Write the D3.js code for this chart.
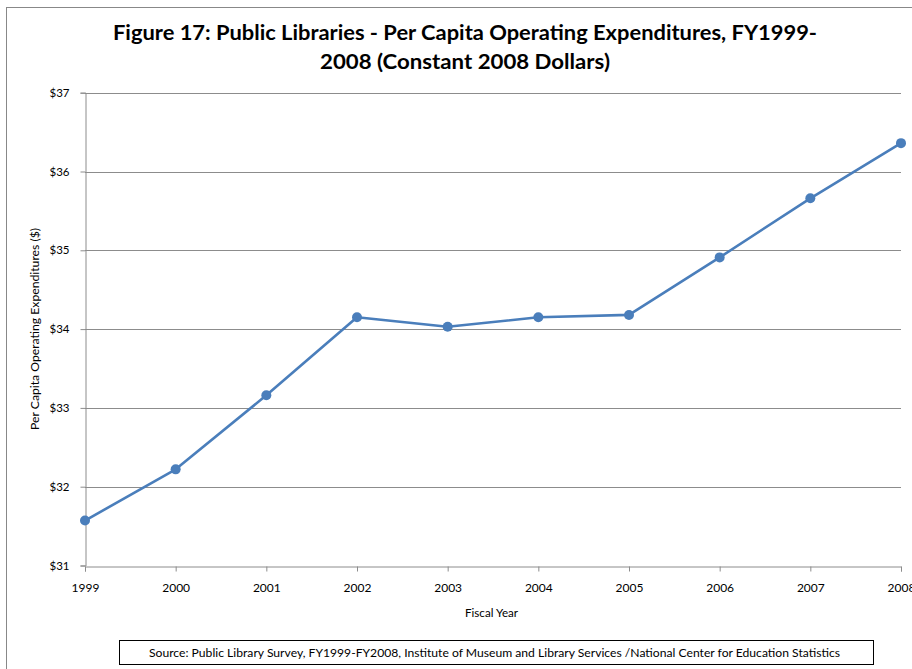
<!DOCTYPE html>
<html>
<head>
<meta charset="utf-8">
<script src="https://cdn.jsdelivr.net/npm/d3@7"></script>
<style>
  html, body { margin: 0; padding: 0; background: #fff; }
  svg { display: block; }
  text { font-family: Lato, "Liberation Sans", sans-serif; fill: #000; }
</style>
</head>
<body>
<svg id="chart" width="912" height="669"></svg>
<script>
const years = [1999, 2000, 2001, 2002, 2003, 2004, 2005, 2006, 2007, 2008];
const values = [31.57, 32.22, 33.16, 34.15, 34.03, 34.15, 34.18, 34.91, 35.66, 36.36];
const yTicks = [31, 32, 33, 34, 35, 36, 37];
const titleLines = ["Figure 17: Public Libraries - Per Capita Operating Expenditures, FY1999-", "2008 (Constant 2008 Dollars)"];
const yLabel = "Per Capita Operating Expenditures ($)";
const xLabel = "Fiscal Year";
const sourceText = "Source: Public Library Survey, FY1999-FY2008, Institute  of Museum and Library Services /National  Center for Education Statistics";

const svg = d3.select("#chart");
const m = {left: 85, right: 901, top: 92.7, bottom: 565.5};
const FONT = "Lato, 'Liberation Sans', sans-serif";

// outer border
svg.append("rect").attr("x", 6.5).attr("y", 7.5).attr("width", 920).attr("height", 700)
  .attr("fill", "none").attr("stroke", "#888").attr("stroke-width", 1);

const x = d3.scaleLinear().domain([1999, 2008]).range([m.left, m.right]);
const y = d3.scaleLinear().domain([31, 37]).range([m.bottom, m.top]);

// gridlines
svg.append("g").selectAll("line").data(yTicks.filter(d => d !== 31)).join("line")
  .attr("x1", m.left).attr("x2", m.right)
  .attr("y1", d => Math.round(y(d)) + 0.5).attr("y2", d => Math.round(y(d)) + 0.5)
  .attr("stroke", "#8c8c8c").attr("stroke-width", 1);

// y axis
const yAxis = d3.axisLeft(y).tickValues(yTicks).tickSize(5).tickPadding(11)
  .tickFormat(d => "$" + d);
const gy = svg.append("g").attr("transform", `translate(${m.left + 0.5},0)`).call(yAxis);
gy.select(".domain").attr("stroke", "#8c8c8c");
gy.selectAll(".tick line").attr("stroke", "#8c8c8c");
gy.selectAll(".tick text").style("font-size", "11.5px").attr("fill", "#000")
  .style("font-family", FONT);

// x axis
const xAxis = d3.axisBottom(x).tickValues(years).tickSize(5).tickPadding(12)
  .tickFormat(d3.format("d"));
const gx = svg.append("g").attr("transform", `translate(0,${Math.round(m.bottom) + 0.5})`).call(xAxis);
gx.select(".domain").attr("stroke", "#8c8c8c");
gx.selectAll(".tick line").attr("stroke", "#8c8c8c");
gx.selectAll(".tick text").style("font-size", "12px").attr("fill", "#000")
  .style("font-family", FONT);

// line
const data = years.map((yr, i) => ({yr, v: values[i]}));
svg.append("path").datum(data)
  .attr("d", d3.line().x(d => x(d.yr)).y(d => y(d.v)))
  .attr("fill", "none").attr("stroke", "#4a7ebb").attr("stroke-width", 2.6)
  .attr("stroke-linejoin", "round");
svg.append("g").selectAll("circle").data(data).join("circle")
  .attr("cx", d => x(d.yr)).attr("cy", d => y(d.v)).attr("r", 5)
  .attr("fill", "#4a7ebb");

// title
svg.append("text").attr("x", 465).attr("y", 39.5).attr("text-anchor", "middle")
  .style("font-size", "21px").style("font-weight", "bold")
  .attr("textLength", 704).attr("lengthAdjust", "spacingAndGlyphs")
  .text(titleLines[0]);
svg.append("text").attr("x", 465).attr("y", 69).attr("text-anchor", "middle")
  .style("font-size", "21px").style("font-weight", "bold")
  .attr("textLength", 290).attr("lengthAdjust", "spacingAndGlyphs")
  .text(titleLines[1]);

// axis titles
svg.append("text").attr("transform", "translate(39,329) rotate(-90)")
  .attr("text-anchor", "middle").style("font-size", "12px")
  .attr("textLength", 202).attr("lengthAdjust", "spacingAndGlyphs")
  .text(yLabel);
svg.append("text").attr("x", 491.5).attr("y", 617).attr("text-anchor", "middle")
  .style("font-size", "12px")
  .attr("textLength", 53).attr("lengthAdjust", "spacingAndGlyphs")
  .text(xLabel);

// source box
svg.append("rect").attr("x", 119.5).attr("y", 640.5).attr("width", 754).attr("height", 24)
  .attr("fill", "#fff").attr("stroke", "#000").attr("stroke-width", 1);
svg.append("text").attr("x", 494.5).attr("y", 657).attr("text-anchor", "middle")
  .style("font-size", "12px")
  .attr("textLength", 691).attr("lengthAdjust", "spacingAndGlyphs")
  .text(sourceText);
</script>
</body>
</html>
